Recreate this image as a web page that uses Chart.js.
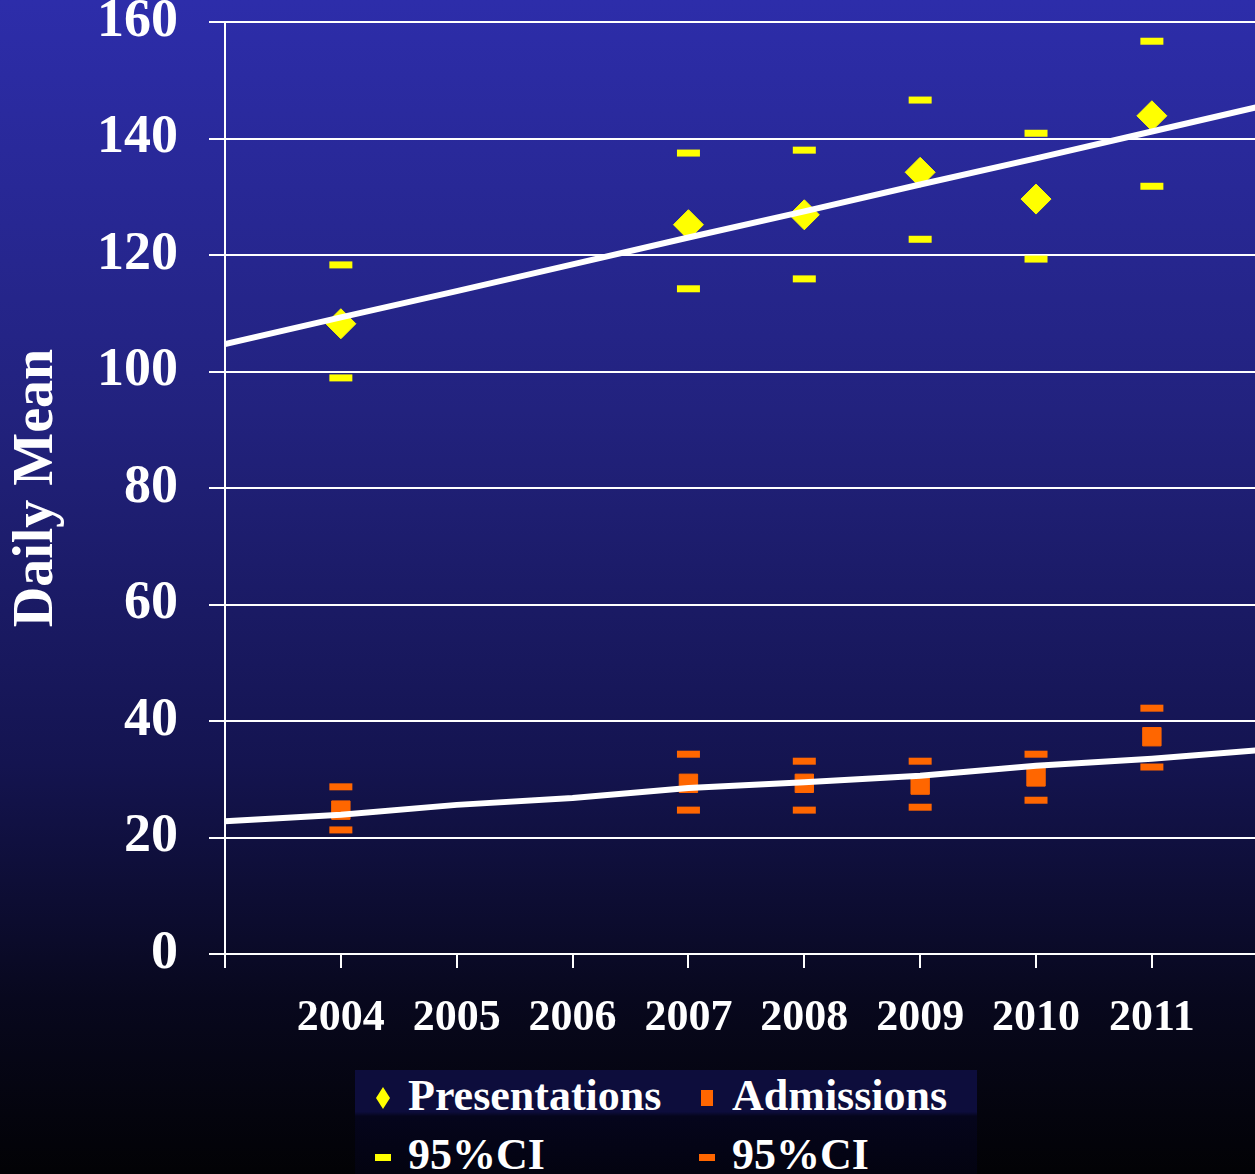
<!DOCTYPE html>
<html>
<head>
<meta charset="utf-8">
<script src="https://cdn.jsdelivr.net/npm/chart.js@4.4.1/dist/chart.umd.min.js"></script>
<style>
  html, body { margin: 0; padding: 0; overflow: hidden; }
  body {
    width: 1255px; height: 1174px;
    background: linear-gradient(to bottom, #2d2daa 0%, #22227e 35%, #141450 65%, #08081e 85%, #020205 100%);
    font-family: 'Times New Roman', 'Liberation Serif', serif;
  }
  #wrap { position: relative; width: 1255px; height: 1174px; }
  #legend {
    position: absolute; left: 355px; top: 1070px; width: 622px; height: 110px;
    background: linear-gradient(to bottom, #0d0d3c 0%, #0d0d3c 38%, #05051c 42%, #03030f 100%);
    color: #fff; font-weight: bold; font-size: 44px;
  }
  .item { position: absolute; line-height: 44px; white-space: nowrap; }
  .mk { position: absolute; }
</style>
</head>
<body>
<div id="wrap">
  <canvas id="chart" width="1255" height="1174"></canvas>
  <div id="legend"></div>
</div>
<script>
// years with measurements
const years = [2004, 2007, 2008, 2009, 2010, 2011];

// presentations (daily mean) and 95% CI
const presentations = [108.2, 125.2, 126.9, 134.2, 129.6, 143.9];
const presUpper = [118.3, 137.5, 138.0, 146.6, 140.9, 156.7];
const presLower = [98.9, 114.2, 115.9, 122.7, 119.3, 131.8];

// admissions (daily mean) and 95% CI
const admissions = [24.7, 29.3, 29.3, 29.0, 30.4, 37.3];
const admUpper = [28.7, 34.3, 33.1, 33.1, 34.3, 42.2];
const admLower = [21.3, 24.7, 24.7, 25.2, 26.4, 32.1];

// trend lines
const trendYears = [2003, 2004, 2005, 2006, 2007, 2008, 2009, 2010, 2011, 2012];
const presTrend = [104.7, 109.3, 113.8, 118.4, 123.0, 127.5, 132.1, 136.6, 141.2, 145.8];
const admTrend = [22.8, 23.9, 25.6, 26.8, 28.5, 29.5, 30.6, 32.3, 33.5, 35.1];

const yTicks = [0, 20, 40, 60, 80, 100, 120, 140, 160];

const YELLOW = '#ffff00';
const ORANGE = '#ff6600';
const FONT = "'Times New Roman', 'Liberation Serif', serif";

const pts = (xs, ys) => xs.map((x, i) => ({ x: x, y: ys[i] }));
const ciPts = (up, lo) => pts(years, up).concat(pts(years, lo));

const ctx = document.getElementById('chart').getContext('2d');
new Chart(ctx, {
    type: 'scatter',
    data: {
        datasets: [
            {
                label: 'Presentations trend',
                type: 'line',
                data: pts(trendYears, presTrend),
                borderColor: '#ffffff',
                borderWidth: 6,
                pointRadius: 0,
                order: 3
            },
            {
                label: 'Admissions trend',
                type: 'line',
                data: pts(trendYears, admTrend),
                borderColor: '#ffffff',
                borderWidth: 6,
                pointRadius: 0,
                order: 3
            },
            {
                label: 'Presentations',
                data: pts(years, presentations),
                pointStyle: 'rectRot',
                pointRadius: 15,
                backgroundColor: YELLOW,
                borderColor: YELLOW,
                borderWidth: 1,
                order: 4
            },
            {
                label: '95%CI',
                data: ciPts(presUpper, presLower),
                pointStyle: 'line',
                pointRadius: 11.5,
                borderColor: YELLOW,
                borderWidth: 7,
                order: 4
            },
            {
                label: 'Admissions',
                data: pts(years, admissions),
                pointStyle: 'rect',
                pointRadius: 13,
                backgroundColor: ORANGE,
                borderColor: ORANGE,
                borderWidth: 1,
                order: 4
            },
            {
                label: '95%CI',
                data: ciPts(admUpper, admLower),
                pointStyle: 'line',
                pointRadius: 11.5,
                borderColor: ORANGE,
                borderWidth: 7,
                order: 4
            }
        ]
    },
    options: {
        responsive: false,
        animation: false,
        layout: { autoPadding: false, padding: { top: 22, left: 0, right: 0, bottom: 0 } },
        plugins: {
            legend: { display: false },
            tooltip: { enabled: false }
        },
        scales: {
            x: {
                type: 'linear',
                min: 2003,
                max: 2011.89,
                afterFit: (s) => { s.height = 220; s.paddingLeft = 0; s.paddingRight = 0; },
                grid: { drawOnChartArea: false, color: '#ffffff', lineWidth: 2, tickLength: 14 },
                border: { color: '#ffffff', width: 2 },
                ticks: {
                    stepSize: 1,
                    includeBounds: false,
                    autoSkip: false,
                    maxRotation: 0,
                    padding: 24,
                    color: '#ffffff',
                    font: { family: FONT, size: 44, weight: 'bold' },
                    callback: (v) => (v >= 2004 && v <= 2011 ? String(v) : '')
                }
            },
            y: {
                min: 0,
                max: 160,
                afterFit: (s) => { s.width = 225; s.paddingTop = 0; s.paddingBottom = 0; },
                afterBuildTicks: (s) => { s.ticks = yTicks.map(v => ({ value: v })); },
                grid: { color: '#ffffff', lineWidth: 2, tickLength: 16 },
                border: { color: '#ffffff', width: 2 },
                ticks: {
                    padding: 31,
                    color: '#ffffff',
                    font: { family: FONT, size: 54, weight: 'bold' }
                },
                title: {
                    display: true,
                    text: 'Daily Mean',
                    color: '#ffffff',
                    font: { family: FONT, size: 56, weight: 'bold' },
                    padding: { top: 4, bottom: 0 }
                }
            }
        }
    }
});

// HTML legend, 2 x 2 like the original
const legendItems = [
    { text: 'Presentations', color: YELLOW, shape: 'diamond', col: 0, row: 0 },
    { text: 'Admissions', color: ORANGE, shape: 'square', col: 1, row: 0 },
    { text: '95%CI', color: YELLOW, shape: 'dash', col: 0, row: 1 },
    { text: '95%CI', color: ORANGE, shape: 'dash', col: 1, row: 1 }
];
const legend = document.getElementById('legend');
legendItems.forEach(it => {
    const cx = it.col === 0 ? 28 : 352;
    const cy = it.row === 0 ? 28 : 87;
    const mk = document.createElement('div');
    mk.className = 'mk';
    if (it.shape === 'diamond') {
        mk.style.cssText = `left:${cx - 7}px;top:${cy - 11}px;width:14px;height:22px;background:${it.color};clip-path:polygon(50% 0,100% 50%,50% 100%,0 50%);`;
    } else if (it.shape === 'square') {
        mk.style.cssText = `left:${cx - 6}px;top:${cy - 8}px;width:12px;height:16px;background:${it.color};`;
    } else {
        mk.style.cssText = `left:${cx - 8}px;top:${cy - 3}px;width:16px;height:7px;background:${it.color};`;
    }
    legend.appendChild(mk);
    const tx = document.createElement('div');
    tx.className = 'item';
    tx.textContent = it.text;
    tx.style.left = (cx + 25) + 'px';
    tx.style.top = (cy - 24) + 'px';
    legend.appendChild(tx);
});
</script>
</body>
</html>
